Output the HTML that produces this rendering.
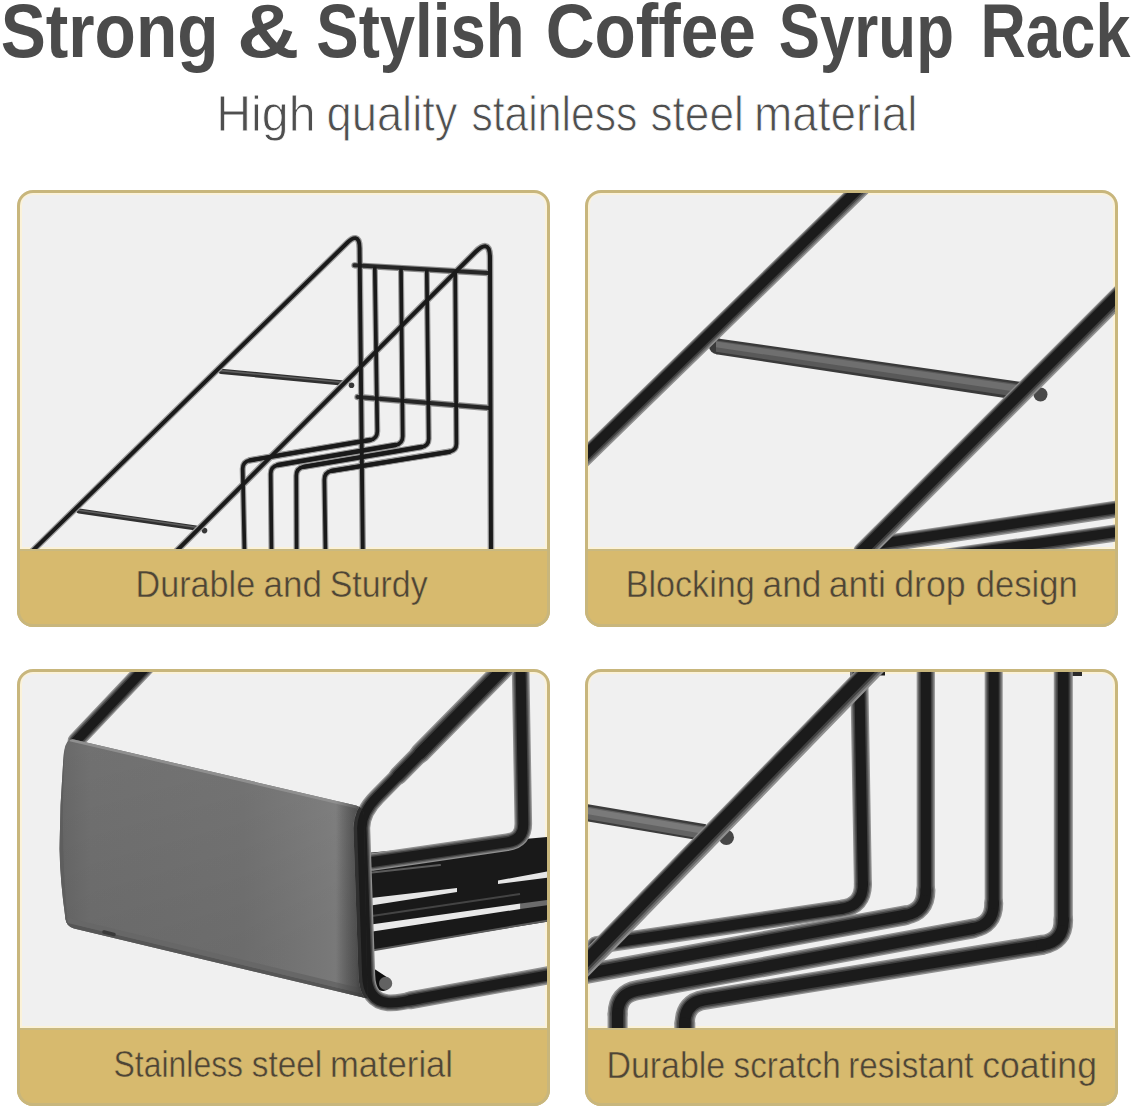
<!DOCTYPE html>
<html>
<head>
<meta charset="utf-8">
<title>Strong &amp; Stylish Coffee Syrup Rack</title>
<style>
  html, body { margin: 0; padding: 0; background: #ffffff; }
  body { width: 1133px; height: 1108px; overflow: hidden; font-family: "Liberation Sans", sans-serif; }
  svg { display: block; position: absolute; left: 0; top: 0; }
  text { font-family: "Liberation Sans", sans-serif; }
</style>
</head>
<body>
<svg width="1133" height="1108" viewBox="0 0 1133 1108">
  <defs>
    <clipPath id="c1"><rect x="20" y="193" width="527" height="356"/></clipPath>
    <clipPath id="c2"><rect x="588" y="193" width="527" height="356"/></clipPath>
    <clipPath id="c3"><rect x="20" y="672" width="527" height="356"/></clipPath>
    <clipPath id="c4"><rect x="588" y="672" width="527" height="356"/></clipPath>
    <clipPath id="p1"><rect x="17" y="190" width="533" height="437" rx="16" ry="16"/></clipPath>
    <clipPath id="p2"><rect x="585" y="190" width="533" height="437" rx="16" ry="16"/></clipPath>
    <clipPath id="p3"><rect x="17" y="669" width="533" height="437" rx="16" ry="16"/></clipPath>
    <clipPath id="p4"><rect x="585" y="669" width="533" height="437" rx="16" ry="16"/></clipPath>
    <linearGradient id="barG" x1="0" y1="0" x2="0" y2="1">
      <stop offset="0" stop-color="#2a2a2a"/>
      <stop offset="0.45" stop-color="#5a5a5a"/>
      <stop offset="1" stop-color="#2e2e2e"/>
    </linearGradient>
    <linearGradient id="plateG" gradientUnits="userSpaceOnUse" x1="60" y1="0" x2="366" y2="0">
      <stop offset="0" stop-color="#686868"/>
      <stop offset="0.1" stop-color="#717171"/>
      <stop offset="0.6" stop-color="#757575"/>
      <stop offset="0.9" stop-color="#838383"/>
      <stop offset="0.97" stop-color="#757575"/>
      <stop offset="1" stop-color="#555555"/>
    </linearGradient>
    <linearGradient id="plateV" gradientUnits="userSpaceOnUse" x1="0" y1="760" x2="60" y2="1000">
      <stop offset="0" stop-color="#000" stop-opacity="0"/>
      <stop offset="1" stop-color="#000" stop-opacity="0.08"/>
    </linearGradient>
    <linearGradient id="plateShade" gradientUnits="userSpaceOnUse" x1="336" y1="0" x2="368" y2="0">
      <stop offset="0" stop-color="#3a3a3a" stop-opacity="0"/>
      <stop offset="0.6" stop-color="#3a3a3a" stop-opacity="0.55"/>
      <stop offset="1" stop-color="#2a2a2a" stop-opacity="0.9"/>
    </linearGradient>
    <clipPath id="plateClip"><path d="M74 739.5 L356 805.5 Q364 807.5 364 816 L367.5 998.5 L74 928.5 Q66.5 926.5 65.5 919 Q60 880 59.5 849 Q59.8 800 64 752 Q65.5 738 74 739.5 Z"/></clipPath>
  </defs>

  <!-- ===== headings ===== -->
  <g id="headings">
    <text x="0.7" y="56.6" font-size="75.2" font-weight="700" fill="#4b4b4b" textLength="217.8" lengthAdjust="spacingAndGlyphs">Strong</text>
    <text x="237.05" y="56.6" font-size="75.2" font-weight="700" fill="#4b4b4b" textLength="62.4" lengthAdjust="spacingAndGlyphs">&amp;</text>
    <text x="316.31" y="56.6" font-size="75.2" font-weight="700" fill="#4b4b4b" textLength="208.22" lengthAdjust="spacingAndGlyphs">Stylish</text>
    <text x="545.71" y="56.6" font-size="75.2" font-weight="700" fill="#4b4b4b" textLength="210.13" lengthAdjust="spacingAndGlyphs">Coffee</text>
    <text x="778.65" y="56.6" font-size="75.2" font-weight="700" fill="#4b4b4b" textLength="175.29" lengthAdjust="spacingAndGlyphs">Syrup</text>
    <text x="980.43" y="56.6" font-size="75.2" font-weight="700" fill="#4b4b4b" textLength="149.86" lengthAdjust="spacingAndGlyphs">Rack</text>
    <text x="216.23" y="131.2" font-size="49.6" font-weight="400" fill="#4f4f4f" stroke="#ffffff" stroke-width="0.9" textLength="99.37" lengthAdjust="spacingAndGlyphs">High</text>
    <text x="326.46" y="131.2" font-size="49.6" font-weight="400" fill="#4f4f4f" stroke="#ffffff" stroke-width="0.9" textLength="131.09" lengthAdjust="spacingAndGlyphs">quality</text>
    <text x="471.38" y="131.2" font-size="49.6" font-weight="400" fill="#4f4f4f" stroke="#ffffff" stroke-width="0.9" textLength="165.9" lengthAdjust="spacingAndGlyphs">stainless</text>
    <text x="650.42" y="131.2" font-size="49.6" font-weight="400" fill="#4f4f4f" stroke="#ffffff" stroke-width="0.9" textLength="93.44" lengthAdjust="spacingAndGlyphs">steel</text>
    <text x="753.89" y="131.2" font-size="49.6" font-weight="400" fill="#4f4f4f" stroke="#ffffff" stroke-width="0.9" textLength="163.58" lengthAdjust="spacingAndGlyphs">material</text>
  </g>






  <!-- ===== panel backgrounds ===== -->
  <g id="frames">
    <g clip-path="url(#p1)"><rect x="17" y="190" width="533" height="359" fill="#f0f0f0"/><rect x="17" y="549" width="533" height="78" fill="#d7ba6e"/></g>
    <g clip-path="url(#p2)"><rect x="585" y="190" width="533" height="359" fill="#f0f0f0"/><rect x="585" y="549" width="533" height="78" fill="#d7ba6e"/></g>
    <g clip-path="url(#p3)"><rect x="17" y="669" width="533" height="359" fill="#f0f0f0"/><rect x="17" y="1028" width="533" height="78" fill="#d7ba6e"/></g>
    <g clip-path="url(#p4)"><rect x="585" y="669" width="533" height="359" fill="#f0f0f0"/><rect x="585" y="1028" width="533" height="78" fill="#d7ba6e"/></g>
  </g>

  <g id="inner-edges">
    <path d="M21 548 L21 206 Q21 194 33 194 L534 194 Q546 194 546 206 L546 548 Z" stroke="#fbf2d9" stroke-width="2" fill="none"/>
    <path d="M589 548 L589 206 Q589 194 601 194 L1102 194 Q1114 194 1114 206 L1114 548 Z" stroke="#fbf2d9" stroke-width="2" fill="none"/>
    <path d="M21 1027 L21 685 Q21 673 33 673 L534 673 Q546 673 546 685 L546 1027 Z" stroke="#fbf2d9" stroke-width="2" fill="none"/>
    <path d="M589 1027 L589 685 Q589 673 601 673 L1102 673 Q1114 673 1114 685 L1114 1027 Z" stroke="#fbf2d9" stroke-width="2" fill="none"/>
  </g>

  <!-- ===== PANEL 1 ===== -->
  <g id="panel1" clip-path="url(#c1)" fill="none" stroke-linecap="round" stroke-linejoin="round">
    <!-- cross bars between the two slanted rails -->
    <path d="M221 371.3 L344 383.2" stroke-width="5.3" stroke="#303030"/>
    <path d="M221 370.6 L344 382.5" stroke-width="1.6" stroke="#5e5e5e"/>
    <circle cx="351.5" cy="385.3" r="2.8" fill="#383838" stroke="none"/>
    <path d="M79 511 L196 528" stroke-width="5.3" stroke="#303030"/>
    <path d="M79 510.3 L196 527.3" stroke-width="1.6" stroke="#5e5e5e"/>
    <circle cx="204.5" cy="530.6" r="2.8" fill="#383838" stroke="none"/>
    <!-- wires: soft outer edge then dark core -->
    <path d="M354.5 265.3 L488 273" stroke="#8c8c8c" stroke-width="6.3"/>
    <path d="M357.5 397 L489.5 408" stroke="#8c8c8c" stroke-width="6.3"/>
    <path d="M374.8 268 L377.3 431 Q377.4 438.8 370 440 L250 460.3 Q242.6 461.8 242.7 469 L244.5 552" stroke="#9a9a9a" stroke-width="6.0"/>
    <path d="M401 270 L402.7 436 Q402.8 443.8 395.4 445 L278 465 Q270.6 466.5 270.7 474 L271.5 552" stroke="#9a9a9a" stroke-width="6.0"/>
    <path d="M426.8 271 L428.7 438.5 Q428.8 445.8 421.4 447 L303.6 466.8 Q296.2 468.3 296.3 476 L296.6 552" stroke="#9a9a9a" stroke-width="6.0"/>
    <path d="M455.2 273 L456.4 443.5 Q456.5 450.6 449.2 451.8 L331.7 470.8 Q324.3 472.3 324.4 480 L325.5 552" stroke="#9a9a9a" stroke-width="6.0"/>
    <path d="M370 440 L250 460.3 M395.4 445 L278 465 M421.4 447 L303.6 466.8 M449.2 451.8 L331.7 470.8" stroke="#9a9a9a" stroke-width="6.6"/>
    <path d="M30.3 553 L347.5 242.5 C353 237 359.5 234.5 359.6 248 L362.8 552" stroke="#9a9a9a" stroke-width="6.4"/>
    <path d="M174.5 553 L475.5 252 C482.5 245 490 241.5 490 258 L491 552" stroke="#9a9a9a" stroke-width="6.6"/>
    <path d="M354.5 265.3 L488 273" stroke="#262626" stroke-width="4.1"/>
    <path d="M357.5 397 L489.5 408" stroke="#262626" stroke-width="4.1"/>
    <path d="M374.8 268 L377.3 431 Q377.4 438.8 370 440 L250 460.3 Q242.6 461.8 242.7 469 L244.5 552" stroke="#1a1a1a" stroke-width="3.7"/>
    <path d="M401 270 L402.7 436 Q402.8 443.8 395.4 445 L278 465 Q270.6 466.5 270.7 474 L271.5 552" stroke="#1a1a1a" stroke-width="3.7"/>
    <path d="M426.8 271 L428.7 438.5 Q428.8 445.8 421.4 447 L303.6 466.8 Q296.2 468.3 296.3 476 L296.6 552" stroke="#1a1a1a" stroke-width="3.7"/>
    <path d="M455.2 273 L456.4 443.5 Q456.5 450.6 449.2 451.8 L331.7 470.8 Q324.3 472.3 324.4 480 L325.5 552" stroke="#1a1a1a" stroke-width="3.7"/>
    <path d="M370 440 L250 460.3 M395.4 445 L278 465 M421.4 447 L303.6 466.8 M449.2 451.8 L331.7 470.8" stroke="#1a1a1a" stroke-width="4.4"/>
    <path d="M30.3 553 L347.5 242.5 C353 237 359.5 234.5 359.6 248 L362.8 552" stroke="#1a1a1a" stroke-width="3.9"/>
    <path d="M174.5 553 L475.5 252 C482.5 245 490 241.5 490 258 L491 552" stroke="#1a1a1a" stroke-width="4.0"/>
  </g>

  <!-- ===== PANEL 2 ===== -->
  <g id="panel2" clip-path="url(#c2)" fill="none" stroke-linecap="round">
    <!-- lower right floor rods -->
    <path d="M870 546 L1122 508.3" stroke="#909090" stroke-width="17.00" stroke-linecap="round"/>
    <path d="M870 546 L1122 508.3" stroke="#686868" stroke-width="14.62" stroke-linecap="round" transform="translate(0.10 -0.27)"/>
    <path d="M870 546 L1122 508.3" stroke="#404040" stroke-width="12.24" stroke-linecap="round" transform="translate(0.20 -0.53)"/>
    <path d="M870 546 L1122 508.3" stroke="#1b1b1b" stroke-width="9.52" stroke-linecap="round" transform="translate(0.30 -0.80)"/>
    <path d="M940 558 L1122 532.2" stroke="#909090" stroke-width="17.00" stroke-linecap="round"/>
    <path d="M940 558 L1122 532.2" stroke="#686868" stroke-width="14.62" stroke-linecap="round" transform="translate(0.10 -0.27)"/>
    <path d="M940 558 L1122 532.2" stroke="#404040" stroke-width="12.24" stroke-linecap="round" transform="translate(0.20 -0.53)"/>
    <path d="M940 558 L1122 532.2" stroke="#1b1b1b" stroke-width="9.52" stroke-linecap="round" transform="translate(0.30 -0.80)"/>
    <!-- cross rod -->
    <polygon points="716,338.2 1022,382 1022,400.5 716,354.2" fill="#3a3a3a" stroke="none"/>
    <circle cx="717" cy="346.2" r="8" fill="#3a3a3a" stroke="none"/>
    <polygon points="716,340.5 1022,384.5 1022,397.5 716,351.8" fill="#595959" stroke="none"/>
    <polygon points="716,341.5 1022,385.8 1022,392.5 716,347.3" fill="#6f6f6f" stroke="none"/>
    <circle cx="1040.5" cy="394.5" r="7" fill="#484848" stroke="none"/>
    <!-- left rail -->
    <path d="M864.2 185 L580 461.9" stroke="#909090" stroke-width="17.50" stroke-linecap="round"/>
    <path d="M864.2 185 L580 461.9" stroke="#686868" stroke-width="15.05" stroke-linecap="round" transform="translate(-0.30 -0.30)"/>
    <path d="M864.2 185 L580 461.9" stroke="#404040" stroke-width="12.60" stroke-linecap="round" transform="translate(-0.60 -0.60)"/>
    <path d="M864.2 185 L580 461.9" stroke="#1b1b1b" stroke-width="9.80" stroke-linecap="round" transform="translate(-0.90 -0.90)"/>
    <!-- right rail -->
    <path d="M1125 290 L863 552" stroke="#909090" stroke-width="19.50" stroke-linecap="round"/>
    <path d="M1125 290 L863 552" stroke="#686868" stroke-width="16.77" stroke-linecap="round" transform="translate(-0.33 -0.33)"/>
    <path d="M1125 290 L863 552" stroke="#404040" stroke-width="14.04" stroke-linecap="round" transform="translate(-0.67 -0.67)"/>
    <path d="M1125 290 L863 552" stroke="#1b1b1b" stroke-width="10.92" stroke-linecap="round" transform="translate(-1.00 -1.00)"/>
  </g>

  <!-- ===== PANEL 3 ===== -->
  <g id="panel3" clip-path="url(#c3)" fill="none" stroke-linecap="round" stroke-linejoin="round">
    <!-- back left slanted wire -->
    <path d="M147 666 L76 741" stroke="#909090" stroke-width="16.80" stroke-linecap="round"/>
    <path d="M147 666 L76 741" stroke="#686868" stroke-width="14.45" stroke-linecap="round"/>
    <path d="M147 666 L76 741" stroke="#404040" stroke-width="12.10" stroke-linecap="round"/>
    <path d="M147 666 L76 741" stroke="#1b1b1b" stroke-width="9.41" stroke-linecap="round"/>
    <!-- shelf rods mass (right of the front wire) -->
    <polygon points="366,853 548,837 548,921.5 366,951.5" fill="#191919" stroke="none"/>
    <!-- light gaps between rods -->
    <polygon points="371,898 457,888 457,892 371,905.5" fill="#e6e6e6" stroke="none"/>
    <polygon points="498,880.5 548,871.3 548,877.5 498,884" fill="#e6e6e6" stroke="none"/>
    <polygon points="371,924.5 520.5,903.6 520.5,909 371,931.7" fill="#e9e9e9" stroke="none"/>
    <polygon points="520.5,903.6 548,899.8 548,905.2 520.5,909" fill="#6b6b6b" stroke="none"/>
    <path d="M372 872.5 L440 865" stroke="#5a5a5a" stroke-width="2.2"/>
    <path d="M372 950.5 L548 920.5" stroke="#5c5c5c" stroke-width="2" stroke-linecap="butt"/>
    <path d="M372 916 L520 894" stroke="#444" stroke-width="2" stroke-linecap="butt"/>
    <!-- right loop wire -->
    <path d="M520.5 664 L523.3 823 Q523.8 840 507 842.3 L372 862" stroke="#909090" stroke-width="17.60" stroke-linecap="round"/>
    <path d="M520.5 664 L523.3 823 Q523.8 840 507 842.3 L372 862" stroke="#686868" stroke-width="15.14" stroke-linecap="round"/>
    <path d="M520.5 664 L523.3 823 Q523.8 840 507 842.3 L372 862" stroke="#404040" stroke-width="12.67" stroke-linecap="round"/>
    <path d="M520.5 664 L523.3 823 Q523.8 840 507 842.3 L372 862" stroke="#1b1b1b" stroke-width="9.86" stroke-linecap="round"/>
    <!-- plate -->
    <path d="M74 739.5 L356 805.5 Q364 807.5 364 816 L367.5 998.5 L74 928.5 Q66.5 926.5 65.5 919 Q60 880 59.5 849 Q59.8 800 64 752 Q65.5 738 74 739.5 Z" fill="url(#plateG)" stroke="none"/>
    <path d="M74 739.5 L356 805.5 Q364 807.5 364 816 L367.5 998.5 L74 928.5 Q66.5 926.5 65.5 919 Q60 880 59.5 849 Q59.8 800 64 752 Q65.5 738 74 739.5 Z" fill="url(#plateV)" stroke="none"/>
    <g clip-path="url(#plateClip)">
      <path d="M62 926 L368 999.5" stroke="#565656" stroke-width="9" stroke-linecap="butt"/>
      <path d="M62 919 L368 992.5" stroke="#676767" stroke-width="5" stroke-linecap="butt"/>
      <path d="M70 739.5 L358 807" stroke="#8f8f8f" stroke-width="3.5" stroke-linecap="butt"/>
      <path d="M62.5 750 Q58 850 66 925" stroke="#5e5e5e" stroke-width="4"/>
      <rect x="336" y="800" width="34" height="210" fill="url(#plateShade)"/>
    </g>
    <path d="M104 932 L114 934.5" stroke="#3a3a3a" stroke-width="3.5"/>
    <!-- wire stub end -->
    <path d="M370 975 L383 983.5" stroke="#0f0f0f" stroke-width="15"/>
    <circle cx="385.6" cy="983.4" r="6.6" fill="#626262"/>
    <!-- front wire: slanted top, vertical, bottom rod -->
    <path d="M512 660 L420 753.4" stroke="#909090" stroke-width="20.30" stroke-linecap="round"/>
    <path d="M426 747.3 L398 775.7" stroke="#909090" stroke-width="18.60" stroke-linecap="round"/>
    <path d="M404 769.6 L377 797 Q362 812 361.8 828 L366.8 975 Q367.6 1001 388 1002.8 Q394 1003.2 402 1001.8 L420 998.5" stroke="#909090" stroke-width="16.80" stroke-linecap="round"/>
    <path d="M410 1000.3 L552 974.6" stroke="#909090" stroke-width="18.00" stroke-linecap="round"/>
    <path d="M512 660 L420 753.4" stroke="#686868" stroke-width="17.46" stroke-linecap="round"/>
    <path d="M426 747.3 L398 775.7" stroke="#686868" stroke-width="16.00" stroke-linecap="round"/>
    <path d="M404 769.6 L377 797 Q362 812 361.8 828 L366.8 975 Q367.6 1001 388 1002.8 Q394 1003.2 402 1001.8 L420 998.5" stroke="#686868" stroke-width="14.45" stroke-linecap="round"/>
    <path d="M410 1000.3 L552 974.6" stroke="#686868" stroke-width="15.48" stroke-linecap="round"/>
    <path d="M512 660 L420 753.4" stroke="#404040" stroke-width="14.62" stroke-linecap="round"/>
    <path d="M426 747.3 L398 775.7" stroke="#404040" stroke-width="13.39" stroke-linecap="round"/>
    <path d="M404 769.6 L377 797 Q362 812 361.8 828 L366.8 975 Q367.6 1001 388 1002.8 Q394 1003.2 402 1001.8 L420 998.5" stroke="#404040" stroke-width="12.10" stroke-linecap="round"/>
    <path d="M410 1000.3 L552 974.6" stroke="#404040" stroke-width="12.96" stroke-linecap="round"/>
    <path d="M512 660 L420 753.4" stroke="#1b1b1b" stroke-width="11.37" stroke-linecap="round"/>
    <path d="M426 747.3 L398 775.7" stroke="#1b1b1b" stroke-width="10.42" stroke-linecap="round"/>
    <path d="M404 769.6 L377 797 Q362 812 361.8 828 L366.8 975 Q367.6 1001 388 1002.8 Q394 1003.2 402 1001.8 L420 998.5" stroke="#1b1b1b" stroke-width="9.41" stroke-linecap="round"/>
    <path d="M410 1000.3 L552 974.6" stroke="#1b1b1b" stroke-width="10.08" stroke-linecap="round"/>
    <g clip-path="url(#plateClip)"><path d="M377 797 Q362 812 361.8 828 L366.8 975 Q367.6 1001 388 1002.8" stroke="#303030" stroke-width="16.8"/><path d="M377 797 Q362 812 361.8 828 L366.8 975 Q367.6 1001 388 1002.8" stroke="#1b1b1b" stroke-width="9.4"/></g>
  </g>

  <!-- ===== PANEL 4 ===== -->
  <g id="panel4" clip-path="url(#c4)" fill="none" stroke-linecap="round" stroke-linejoin="round">
    <!-- grey cross rod -->
    <polygon points="580,802.9 706,824.3 706,841.6 580,820.2" fill="#3c3c3c" stroke="none"/>
    <polygon points="580,805.4 706,826.8 706,839.4 580,818" fill="#636363" stroke="none"/>
    <polygon points="580,806.6 706,828 706,834.2 580,812.8" fill="#7a7a7a" stroke="none"/>
    <circle cx="726.4" cy="837.4" r="7.6" fill="#464646" stroke="none"/>
    <!-- top bits -->
    <path d="M1066 673 L1082 673" stroke="#2a2a2a" stroke-width="6" stroke-linecap="butt"/>
    <path d="M850 672.5 L885 672.5" stroke="#1a1a1a" stroke-width="6" stroke-linecap="butt"/>
    <!-- bent wires -->
    <path d="M842.1 908.7 L596.0 945.2" stroke="#909090" stroke-width="18.00" stroke-linecap="round"/>
    <path d="M862.9 883.6 L862.9 884.6 Q862.9 905.6 842.1 908.7 l-0.99 0.15" stroke="#909090" stroke-width="18.00" stroke-linecap="round"/>
    <path d="M859.0 660 L862.9 884.6" stroke="#909090" stroke-width="18.00" stroke-linecap="round"/>
    <path d="M842.1 908.7 L596.0 945.2" stroke="#686868" stroke-width="15.48" stroke-linecap="round"/>
    <path d="M862.9 883.6 L862.9 884.6 Q862.9 905.6 842.1 908.7 l-0.99 0.15" stroke="#686868" stroke-width="15.48" stroke-linecap="round"/>
    <path d="M859.0 660 L862.9 884.6" stroke="#686868" stroke-width="15.48" stroke-linecap="round"/>
    <path d="M842.1 908.7 L596.0 945.2" stroke="#404040" stroke-width="12.96" stroke-linecap="round"/>
    <path d="M862.9 883.6 L862.9 884.6 Q862.9 905.6 842.1 908.7 l-0.99 0.15" stroke="#404040" stroke-width="12.96" stroke-linecap="round"/>
    <path d="M859.0 660 L862.9 884.6" stroke="#404040" stroke-width="12.96" stroke-linecap="round"/>
    <path d="M842.1 908.7 L596.0 945.2" stroke="#1b1b1b" stroke-width="10.08" stroke-linecap="round"/>
    <path d="M862.9 883.6 L862.9 884.6 Q862.9 905.6 842.1 908.7 l-0.99 0.15" stroke="#1b1b1b" stroke-width="10.08" stroke-linecap="round"/>
    <path d="M859.0 660 L862.9 884.6" stroke="#1b1b1b" stroke-width="10.08" stroke-linecap="round"/>
    <path d="M905.1 915.4 L578.0 975.3" stroke="#909090" stroke-width="20.20" stroke-linecap="round"/>
    <path d="M925.8 889.7 L925.8 890.7 Q925.8 911.7 905.1 915.4 l-0.98 0.18" stroke="#909090" stroke-width="19.20" stroke-linecap="round"/>
    <path d="M925.8 660 L925.8 890.7" stroke="#909090" stroke-width="18.20" stroke-linecap="round"/>
    <path d="M905.1 915.4 L578.0 975.3" stroke="#686868" stroke-width="17.37" stroke-linecap="round"/>
    <path d="M925.8 889.7 L925.8 890.7 Q925.8 911.7 905.1 915.4 l-0.98 0.18" stroke="#686868" stroke-width="16.51" stroke-linecap="round"/>
    <path d="M925.8 660 L925.8 890.7" stroke="#686868" stroke-width="15.65" stroke-linecap="round"/>
    <path d="M905.1 915.4 L578.0 975.3" stroke="#404040" stroke-width="14.54" stroke-linecap="round"/>
    <path d="M925.8 889.7 L925.8 890.7 Q925.8 911.7 905.1 915.4 l-0.98 0.18" stroke="#404040" stroke-width="13.82" stroke-linecap="round"/>
    <path d="M925.8 660 L925.8 890.7" stroke="#404040" stroke-width="13.10" stroke-linecap="round"/>
    <path d="M905.1 915.4 L578.0 975.3" stroke="#1b1b1b" stroke-width="11.31" stroke-linecap="round"/>
    <path d="M925.8 889.7 L925.8 890.7 Q925.8 911.7 905.1 915.4 l-0.98 0.18" stroke="#1b1b1b" stroke-width="10.75" stroke-linecap="round"/>
    <path d="M925.8 660 L925.8 890.7" stroke="#1b1b1b" stroke-width="10.19" stroke-linecap="round"/>
    <path d="M973.0 928.5 L637.3 990.2 Q617.6 993.8 617.6 1013.8" stroke="#909090" stroke-width="20.00" stroke-linecap="round"/>
    <path d="M617.6 1013.8 L617.6 1040" stroke="#909090" stroke-width="20.00" stroke-linecap="round"/>
    <path d="M993.7 902.7 L993.7 903.7 Q993.7 924.7 973.0 928.5 l-0.98 0.18" stroke="#909090" stroke-width="19.00" stroke-linecap="round"/>
    <path d="M993.7 660 L993.7 903.7" stroke="#909090" stroke-width="18.00" stroke-linecap="round"/>
    <path d="M973.0 928.5 L637.3 990.2 Q617.6 993.8 617.6 1013.8" stroke="#686868" stroke-width="17.20" stroke-linecap="round"/>
    <path d="M617.6 1013.8 L617.6 1040" stroke="#686868" stroke-width="17.20" stroke-linecap="round"/>
    <path d="M993.7 902.7 L993.7 903.7 Q993.7 924.7 973.0 928.5 l-0.98 0.18" stroke="#686868" stroke-width="16.34" stroke-linecap="round"/>
    <path d="M993.7 660 L993.7 903.7" stroke="#686868" stroke-width="15.48" stroke-linecap="round"/>
    <path d="M973.0 928.5 L637.3 990.2 Q617.6 993.8 617.6 1013.8" stroke="#404040" stroke-width="14.40" stroke-linecap="round"/>
    <path d="M617.6 1013.8 L617.6 1040" stroke="#404040" stroke-width="14.40" stroke-linecap="round"/>
    <path d="M993.7 902.7 L993.7 903.7 Q993.7 924.7 973.0 928.5 l-0.98 0.18" stroke="#404040" stroke-width="13.68" stroke-linecap="round"/>
    <path d="M993.7 660 L993.7 903.7" stroke="#404040" stroke-width="12.96" stroke-linecap="round"/>
    <path d="M973.0 928.5 L637.3 990.2 Q617.6 993.8 617.6 1013.8" stroke="#1b1b1b" stroke-width="11.20" stroke-linecap="round"/>
    <path d="M617.6 1013.8 L617.6 1040" stroke="#1b1b1b" stroke-width="11.20" stroke-linecap="round"/>
    <path d="M993.7 902.7 L993.7 903.7 Q993.7 924.7 973.0 928.5 l-0.98 0.18" stroke="#1b1b1b" stroke-width="10.64" stroke-linecap="round"/>
    <path d="M993.7 660 L993.7 903.7" stroke="#1b1b1b" stroke-width="10.08" stroke-linecap="round"/>
    <path d="M1042.6 944.8 L704.5 999.7 Q684.8 1002.9 684.8 1022.9" stroke="#909090" stroke-width="20.20" stroke-linecap="round"/>
    <path d="M684.8 1022.9 L684.8 1040" stroke="#909090" stroke-width="21.00" stroke-linecap="round"/>
    <path d="M1063.3 919.4 L1063.3 920.4 Q1063.3 941.4 1042.6 944.8 l-0.99 0.16" stroke="#909090" stroke-width="19.60" stroke-linecap="round"/>
    <path d="M1063.3 660 L1063.3 920.4" stroke="#909090" stroke-width="19.00" stroke-linecap="round"/>
    <path d="M1042.6 944.8 L704.5 999.7 Q684.8 1002.9 684.8 1022.9" stroke="#686868" stroke-width="17.37" stroke-linecap="round"/>
    <path d="M684.8 1022.9 L684.8 1040" stroke="#686868" stroke-width="18.06" stroke-linecap="round"/>
    <path d="M1063.3 919.4 L1063.3 920.4 Q1063.3 941.4 1042.6 944.8 l-0.99 0.16" stroke="#686868" stroke-width="16.86" stroke-linecap="round"/>
    <path d="M1063.3 660 L1063.3 920.4" stroke="#686868" stroke-width="16.34" stroke-linecap="round"/>
    <path d="M1042.6 944.8 L704.5 999.7 Q684.8 1002.9 684.8 1022.9" stroke="#404040" stroke-width="14.54" stroke-linecap="round"/>
    <path d="M684.8 1022.9 L684.8 1040" stroke="#404040" stroke-width="15.12" stroke-linecap="round"/>
    <path d="M1063.3 919.4 L1063.3 920.4 Q1063.3 941.4 1042.6 944.8 l-0.99 0.16" stroke="#404040" stroke-width="14.11" stroke-linecap="round"/>
    <path d="M1063.3 660 L1063.3 920.4" stroke="#404040" stroke-width="13.68" stroke-linecap="round"/>
    <path d="M1042.6 944.8 L704.5 999.7 Q684.8 1002.9 684.8 1022.9" stroke="#1b1b1b" stroke-width="11.31" stroke-linecap="round"/>
    <path d="M684.8 1022.9 L684.8 1040" stroke="#1b1b1b" stroke-width="11.76" stroke-linecap="round"/>
    <path d="M1063.3 919.4 L1063.3 920.4 Q1063.3 941.4 1042.6 944.8 l-0.99 0.16" stroke="#1b1b1b" stroke-width="10.98" stroke-linecap="round"/>
    <path d="M1063.3 660 L1063.3 920.4" stroke="#1b1b1b" stroke-width="10.64" stroke-linecap="round"/>
    <!-- slanted rail -->
    <path d="M877 664 L580 969.8" stroke="#909090" stroke-width="21.00" stroke-linecap="round"/>
    <path d="M877 664 L580 969.8" stroke="#686868" stroke-width="18.06" stroke-linecap="round" transform="translate(-0.43 -0.43)"/>
    <path d="M877 664 L580 969.8" stroke="#404040" stroke-width="15.12" stroke-linecap="round" transform="translate(-0.87 -0.87)"/>
    <path d="M877 664 L580 969.8" stroke="#1b1b1b" stroke-width="11.76" stroke-linecap="round" transform="translate(-1.30 -1.30)"/>
  </g>

  <!-- ===== panel borders (on top) ===== -->
  <g id="band-edges">
    <path d="M20 550 L547 550" stroke="#c9b981" stroke-width="2" fill="none"/>
    <path d="M588 550 L1115 550" stroke="#c9b981" stroke-width="2" fill="none"/>
    <path d="M20 1029 L547 1029" stroke="#c9b981" stroke-width="2" fill="none"/>
    <path d="M588 1029 L1115 1029" stroke="#c9b981" stroke-width="2" fill="none"/>
  </g>
  <g id="borders" fill="none" stroke="#c8b67c" stroke-width="3">
    <rect x="18.5" y="191.5" width="530" height="434" rx="14.5" ry="14.5"/>
    <rect x="586.5" y="191.5" width="530" height="434" rx="14.5" ry="14.5"/>
    <rect x="18.5" y="670.5" width="530" height="434" rx="14.5" ry="14.5"/>
    <rect x="586.5" y="670.5" width="530" height="434" rx="14.5" ry="14.5"/>
  </g>

  <!-- ===== labels ===== -->
  <g id="labels">
    <text x="135.59" y="596.9" font-size="36.4" font-weight="400" fill="#4d4536" stroke="#d7ba6e" stroke-width="0.5" textLength="119.58" lengthAdjust="spacingAndGlyphs">Durable</text>
    <text x="263.58" y="596.9" font-size="36.4" font-weight="400" fill="#4d4536" stroke="#d7ba6e" stroke-width="0.5" textLength="58.33" lengthAdjust="spacingAndGlyphs">and</text>
    <text x="329.64" y="596.9" font-size="36.4" font-weight="400" fill="#4d4536" stroke="#d7ba6e" stroke-width="0.5" textLength="98.07" lengthAdjust="spacingAndGlyphs">Sturdy</text>
    <text x="625.68" y="597.1" font-size="36.4" font-weight="400" fill="#4d4536" stroke="#d7ba6e" stroke-width="0.5" textLength="129.12" lengthAdjust="spacingAndGlyphs">Blocking</text>
    <text x="762.56" y="597.1" font-size="36.4" font-weight="400" fill="#4d4536" stroke="#d7ba6e" stroke-width="0.5" textLength="58.77" lengthAdjust="spacingAndGlyphs">and</text>
    <text x="828.85" y="597.1" font-size="36.4" font-weight="400" fill="#4d4536" stroke="#d7ba6e" stroke-width="0.5" textLength="57.17" lengthAdjust="spacingAndGlyphs">anti</text>
    <text x="894.13" y="597.1" font-size="36.4" font-weight="400" fill="#4d4536" stroke="#d7ba6e" stroke-width="0.5" textLength="71.58" lengthAdjust="spacingAndGlyphs">drop</text>
    <text x="975.8" y="597.1" font-size="36.4" font-weight="400" fill="#4d4536" stroke="#d7ba6e" stroke-width="0.5" textLength="101.94" lengthAdjust="spacingAndGlyphs">design</text>
    <text x="113.55" y="1077.4" font-size="36.4" font-weight="400" fill="#4d4536" stroke="#d7ba6e" stroke-width="0.5" textLength="129.52" lengthAdjust="spacingAndGlyphs">Stainless</text>
    <text x="251.77" y="1077.4" font-size="36.4" font-weight="400" fill="#4d4536" stroke="#d7ba6e" stroke-width="0.5" textLength="70.47" lengthAdjust="spacingAndGlyphs">steel</text>
    <text x="329.95" y="1077.4" font-size="36.4" font-weight="400" fill="#4d4536" stroke="#d7ba6e" stroke-width="0.5" textLength="123.07" lengthAdjust="spacingAndGlyphs">material</text>
    <text x="606.4" y="1077.8" font-size="36.4" font-weight="400" fill="#4d4536" stroke="#d7ba6e" stroke-width="0.5" textLength="118.85" lengthAdjust="spacingAndGlyphs">Durable</text>
    <text x="733.57" y="1077.8" font-size="36.4" font-weight="400" fill="#4d4536" stroke="#d7ba6e" stroke-width="0.5" textLength="107.12" lengthAdjust="spacingAndGlyphs">scratch</text>
    <text x="848.27" y="1077.8" font-size="36.4" font-weight="400" fill="#4d4536" stroke="#d7ba6e" stroke-width="0.5" textLength="125.32" lengthAdjust="spacingAndGlyphs">resistant</text>
    <text x="982.14" y="1077.8" font-size="36.4" font-weight="400" fill="#4d4536" stroke="#d7ba6e" stroke-width="0.5" textLength="114.87" lengthAdjust="spacingAndGlyphs">coating</text>
  </g>
</svg>
</body>
</html>
